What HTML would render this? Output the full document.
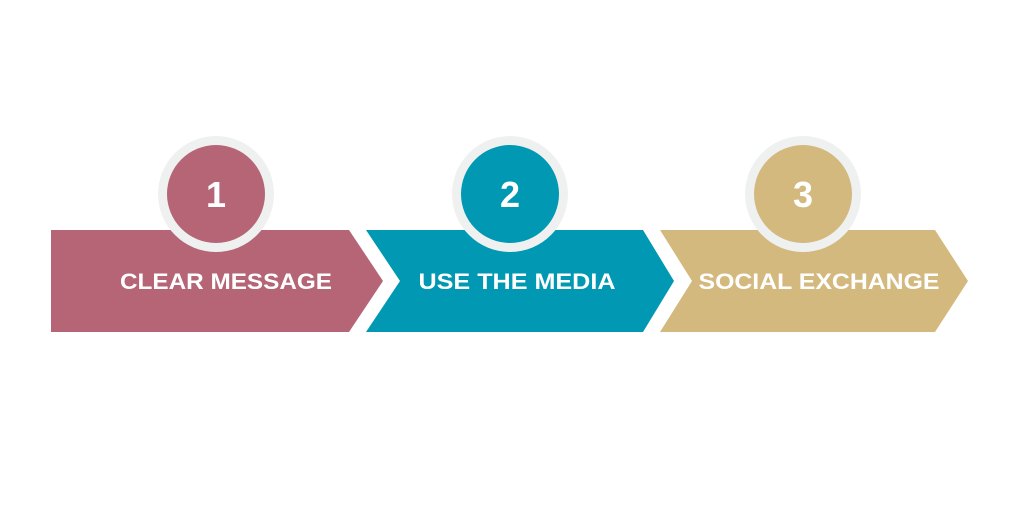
<!DOCTYPE html>
<html><head><style>
html,body{margin:0;padding:0;background:#fff;}
svg{display:block}
text{font-family:"Liberation Sans",sans-serif;font-weight:bold;fill:#fff;}
</style></head><body>
<svg width="1024" height="512" viewBox="0 0 1024 512">
<polygon points="51,230 349,230 383,281 349,332 51,332" fill="#b56576"/>
<polygon points="366,230 643,230 674,281 643,332 366,332 400,281" fill="#0098b3"/>
<polygon points="660,230 935,230 968,281 935,332 660,332 692,281" fill="#d4b97f"/>
<circle cx="216" cy="194" r="58" fill="#eff1f1"/>
<circle cx="216" cy="194" r="49" fill="#b56576"/>
<circle cx="510" cy="194" r="58" fill="#eff1f1"/>
<circle cx="510" cy="194" r="49" fill="#0098b3"/>
<circle cx="803" cy="194" r="58" fill="#eff1f1"/>
<circle cx="803" cy="194" r="49" fill="#d4b97f"/>
<text x="216" y="207" font-size="36" text-anchor="middle">1</text>
<text x="510" y="207" font-size="36" text-anchor="middle">2</text>
<text x="803" y="207" font-size="36" text-anchor="middle">3</text>
<text x="226" y="289" font-size="22" text-anchor="middle" textLength="212" lengthAdjust="spacingAndGlyphs">CLEAR MESSAGE</text>
<text x="517" y="289" font-size="22" text-anchor="middle" textLength="197" lengthAdjust="spacingAndGlyphs">USE THE MEDIA</text>
<text x="819" y="289" font-size="22" text-anchor="middle" textLength="241" lengthAdjust="spacingAndGlyphs">SOCIAL EXCHANGE</text>
</svg>
</body></html>
